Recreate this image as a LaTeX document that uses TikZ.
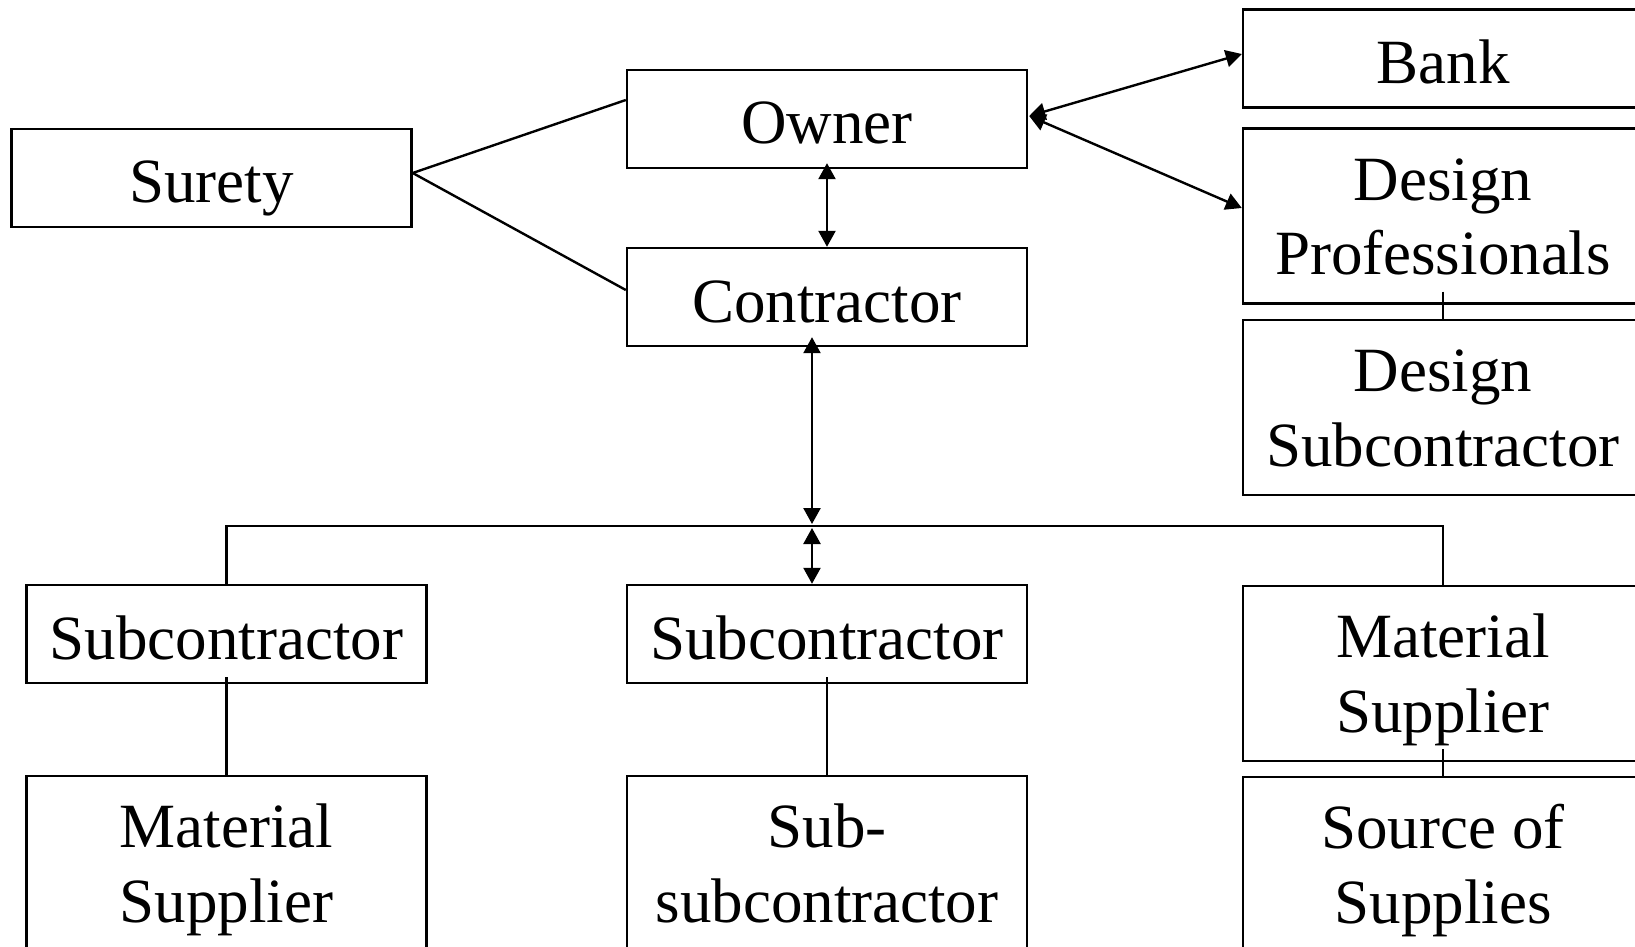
\documentclass[tikz,border=0pt]{standalone}
\usepackage{fontspec}
\setmainfont{Liberation Serif}
\usetikzlibrary{arrows.meta,calc}
\tikzset{
  box/.style={draw, line width=1.2pt, inner sep=0pt, minimum width=200pt,
    font=\fontsize{31.5pt}{37.5pt}\selectfont, align=center},
  one/.style={box, minimum height=49pt, text height=25pt, text depth=0pt},
  two/.style={box, minimum height=87.5pt, text height=59pt, text depth=0pt},
  link/.style={line width=1.2pt},
  both/.style={line width=1.2pt, {Triangle[length=8pt,width=8.5pt]}-{Triangle[length=8pt,width=8.5pt]}},
}
\begin{document}
\begin{tikzpicture}[x=0.5pt,y=-0.5pt]
\useasboundingbox (0,0) rectangle (1635,947);
\clip (0,0) rectangle (1635,947);
\node[one] (surety) at (211.5,178) {Surety};
\node[one] (owner) at (827,119) {Owner};
\node[one] (contractor) at (827,297) {Contractor};
\node[one] (bank) at (1443,58.5) {Bank};
\node[two] (dprof) at (1443,216) {Design\\Professionals};
\node[two] (dsub) at (1443,407.5) {Design\\Subcontractor};
\node[one] (subL) at (226.5,634) {Subcontractor};
\node[one] (subM) at (827,634) {Subcontractor};
\node[two] (matR) at (1443,673.5) {Material\\Supplier};
\node[two] (matL) at (226.5,863.5) {Material\\Supplier};
\node[two] (subsub) at (827,863.5) {Sub-\\subcontractor};
\node[two] (source) at (1443,864.5) {Source of\\Supplies};
\coordinate (bus) at (812,526);

\draw[link] ($(surety.east)+(0,-5)$) -- ($(owner.west)+(0,-19)$);
\draw[link] ($(surety.east)+(0,-5)$) -- ($(contractor.west)+(0,-7)$);
\draw[both] ($(owner.south)+(0,-6)$) -- (contractor.north);
\draw[both] ($(owner.east)+(1,-3)$) -- ($(bank.west)+(0,-4.5)$);
\draw[both] ($(owner.east)+(1,-3)$) -- ($(dprof.west)+(0,-8)$);
\draw[link] ($(dprof.south)+(0,-13)$) -- (dsub.north);
\draw[both] ($(contractor.south)+(-15,-10)$) -- ($(bus)+(0,-2)$);
\draw[both] ($(bus)+(0,2)$) -- (subM.north -| bus);
\draw[link] (subL.north) -- (subL.north |- bus) -- (matR.north |- bus) -- (matR.north);
\draw[link] ($(subL.south)+(0,-7)$) -- (matL.north);
\draw[link] ($(subM.south)+(0,-7)$) -- (subsub.north);
\draw[link] ($(matR.south)+(0,-13)$) -- (source.north);
\end{tikzpicture}
\end{document}
